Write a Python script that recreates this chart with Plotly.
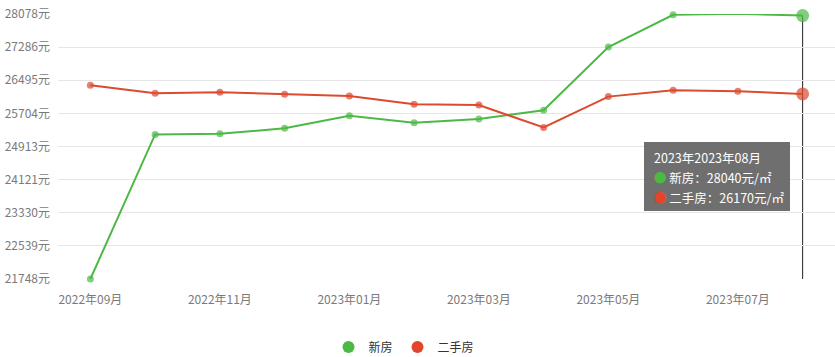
import plotly.graph_objects as go

months = ["2022年09月", "2022年10月", "2022年11月", "2022年12月", "2023年01月", "2023年02月",
          "2023年03月", "2023年04月", "2023年05月", "2023年06月", "2023年07月", "2023年08月"]
new_house = [21748, 25201, 25215, 25350, 25650, 25480, 25570, 25780, 27290, 28060, 28085, 28040]
second_house = [26375, 26185, 26208, 26160, 26118, 25925, 25902, 25368, 26105, 26255, 26232, 26170]
y_ticks = [21748, 22539, 23330, 24121, 24913, 25704, 26495, 27286, 28078]
y_tick_text = [f"{v}元" for v in y_ticks]

GREEN = "#4cb944"
RED = "#dc4a2f"
FONT = "Noto Sans CJK SC"

W, H = 835, 357
L, T, R = 58, 14, 0
B = H - 279
PW, PH = W - L - R, H - T - B


def px(xp):
    return (xp - L) / PW


def py(yp):
    return (H - B - yp) / PH


x_idx = list(range(len(months)))
n = len(months)
sizes = [7] * (n - 1) + [13]

fig = go.Figure()
fig.add_trace(go.Scatter(x=x_idx, y=new_house, mode="lines+markers", name="新房",
                         line=dict(color=GREEN, width=2),
                         marker=dict(color=GREEN, size=sizes, line=dict(width=0)),
                         showlegend=False, cliponaxis=False))
fig.add_trace(go.Scatter(x=x_idx, y=second_house, mode="lines+markers", name="二手房",
                         line=dict(color=RED, width=2),
                         marker=dict(color=RED, size=sizes, line=dict(width=0)),
                         showlegend=False, cliponaxis=False))
# legend-only entries
fig.add_trace(go.Scatter(x=[None], y=[None], mode="markers", name="新房",
                         marker=dict(color=GREEN, size=12)))
fig.add_trace(go.Scatter(x=[None], y=[None], mode="markers", name="二手房",
                         marker=dict(color="#e2452a", size=12)))

# hover indicator line at last month
fig.add_shape(type="line", xref="x", yref="y", x0=n - 1, x1=n - 1,
              y0=y_ticks[0], y1=new_house[-1], line=dict(color="#222", width=1), layer="below")

# tooltip box
fig.add_shape(type="rect", xref="paper", yref="paper", x0=px(644), x1=px(790), y0=py(211), y1=py(142),
              fillcolor="rgba(95,95,95,0.9)", line=dict(width=0), layer="above")
tip_lines = [
    (f"{months[-1][:5]}{months[-1]}", 157),
    (f"<span style='color:{GREEN}'>●</span> 新房：{new_house[-1]}元/㎡", 177),
    (f"<span style='color:#e2452a'>●</span> 二手房：{second_house[-1]}元/㎡", 197),
]
for txt, yy in tip_lines:
    fig.add_annotation(xref="paper", yref="paper", x=px(652), y=py(yy), xanchor="left", yanchor="middle",
                       text=txt, showarrow=False, align="left",
                       font=dict(family=FONT, size=12.5, color="white"))

fig.update_layout(
    width=W, height=H,
    margin=dict(l=L, r=R, t=T, b=B, autoexpand=False),
    paper_bgcolor="white", plot_bgcolor="white",
    font=dict(family=FONT, size=12, color="#777"),
    xaxis=dict(range=[-0.5, n - 0.5], tickvals=x_idx[::2], ticktext=months[::2],
               showgrid=False, zeroline=False, showline=False, ticks="", automargin=False,
               ticklabelstandoff=12, tickfont=dict(size=12, color="#7a7a7a"), fixedrange=True),
    yaxis=dict(range=[y_ticks[0] - 0.5, y_ticks[-1] + 0.5], tickvals=y_ticks, ticktext=y_tick_text,
               showgrid=True, gridcolor="#e6e6e6", gridwidth=1, zeroline=False, showline=False,
               ticks="", automargin=False, ticklabelstandoff=7, tickfont=dict(size=12, color="#7a7a7a")),
    legend=dict(orientation="h", x=px(404), xanchor="center", y=py(347), yanchor="middle",
                font=dict(size=12, color="#333"), itemsizing="trace"),
    hovermode=False,
)

fig.write_html("out.html", config={"displayModeBar": False},
               post_script="document.body.style.margin='0';")
